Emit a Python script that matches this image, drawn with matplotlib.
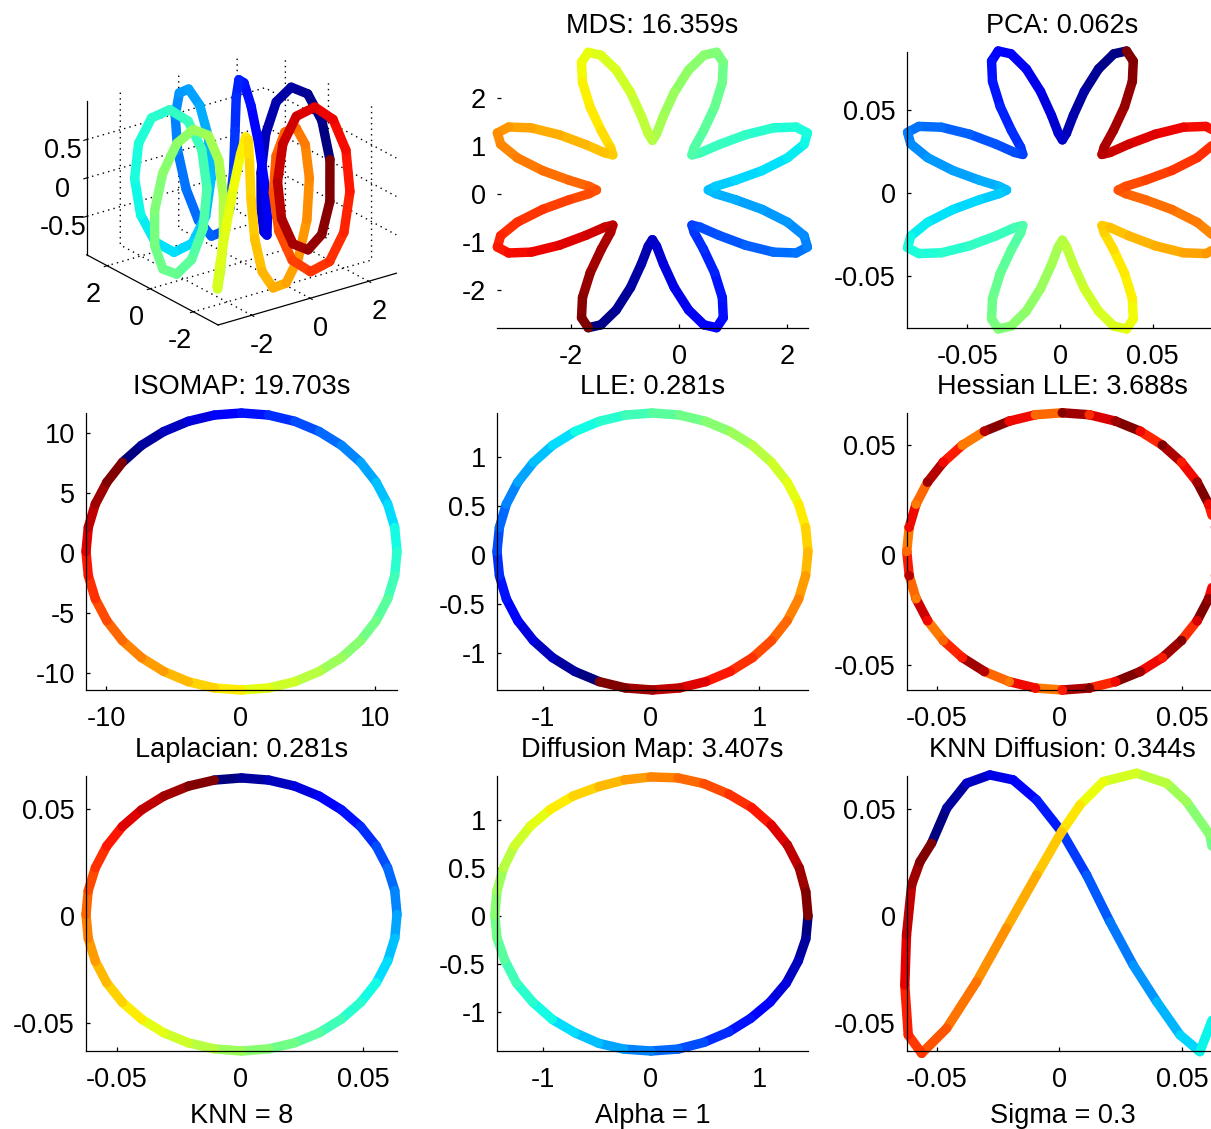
import numpy as np
import matplotlib
matplotlib.use('Agg')
import matplotlib.pyplot as plt
from matplotlib.collections import LineCollection
from matplotlib.ticker import FormatStrFormatter
from mpl_toolkits.mplot3d import proj3d
from mpl_toolkits.mplot3d.art3d import Line3DCollection

plt.rcParams['font.family'] = ['Liberation Sans', 'DejaVu Sans']
plt.rcParams['axes.unicode_minus'] = False
plt.rcParams['grid.linestyle'] = (0, (1, 3))
plt.rcParams['grid.color'] = 'k'
plt.rcParams['grid.linewidth'] = 1.0

W, H = 1211, 1129
FS = 19.5
LW = 6.8

# toroidal helix, ordered along t (colour goes dark blue -> dark red)
helix_x = [3.000, 2.860, 2.479, 1.962, 1.449, 1.074, 0.924, 1.017, 1.299, 1.663, 1.983, 2.155,
           2.121, 1.890, 1.522, 1.111, 0.750, 0.502, 0.383, 0.365, 0.388, 0.390, 0.326, 0.187,
           0.000, -0.187, -0.326, -0.390, -0.388, -0.365, -0.383, -0.502, -0.750, -1.111, -1.522, -1.890,
           -2.121, -2.155, -1.983, -1.663, -1.299, -1.017, -0.924, -1.074, -1.449, -1.962, -2.479, -2.860,
           -3.000, -2.860, -2.479, -1.962, -1.449, -1.074, -0.924, -1.017, -1.299, -1.663, -1.983, -2.155,
           -2.121, -1.890, -1.522, -1.111, -0.750, -0.502, -0.383, -0.365, -0.388, -0.390, -0.326, -0.187,
           0.000, 0.187, 0.326, 0.390, 0.388, 0.365, 0.383, 0.502, 0.750, 1.111, 1.522, 1.890,
           2.121, 2.155, 1.983, 1.663, 1.299, 1.017, 0.924, 1.074, 1.449, 1.962, 2.479, 2.860]
helix_y = [0.000, 0.187, 0.326, 0.390, 0.388, 0.365, 0.383, 0.502, 0.750, 1.111, 1.522, 1.890,
           2.121, 2.155, 1.983, 1.663, 1.299, 1.017, 0.924, 1.074, 1.449, 1.962, 2.479, 2.860,
           3.000, 2.860, 2.479, 1.962, 1.449, 1.074, 0.924, 1.017, 1.299, 1.663, 1.983, 2.155,
           2.121, 1.890, 1.522, 1.111, 0.750, 0.502, 0.383, 0.365, 0.388, 0.390, 0.326, 0.187,
           0.000, -0.187, -0.326, -0.390, -0.388, -0.365, -0.383, -0.502, -0.750, -1.111, -1.522, -1.890,
           -2.121, -2.155, -1.983, -1.663, -1.299, -1.017, -0.924, -1.074, -1.449, -1.962, -2.479, -2.860,
           -3.000, -2.860, -2.479, -1.962, -1.449, -1.074, -0.924, -1.017, -1.299, -1.663, -1.983, -2.155,
           -2.121, -1.890, -1.522, -1.111, -0.750, -0.502, -0.383, -0.365, -0.388, -0.390, -0.326, -0.187]
helix_z = [0, .5, .866, 1, .866, .5, 0, -.5, -.866, -1, -.866, -.5,
           0, .5, .866, 1, .866, .5, 0, -.5, -.866, -1, -.866, -.5,
           0, .5, .866, 1, .866, .5, 0, -.5, -.866, -1, -.866, -.5,
           0, .5, .866, 1, .866, .5, 0, -.5, -.866, -1, -.866, -.5,
           0, .5, .866, 1, .866, .5, 0, -.5, -.866, -1, -.866, -.5,
           0, .5, .866, 1, .866, .5, 0, -.5, -.866, -1, -.866, -.5,
           0, .5, .866, 1, .866, .5, 0, -.5, -.866, -1, -.866, -.5,
           0, .5, .866, 1, .866, .5, 0, -.5, -.866, -1, -.866, -.5]

mds_x = [-1.688, -1.453, -1.170, -0.904, -0.703, -0.577, -0.500, -0.423, -0.297, -0.096, 0.170, 0.453,
         0.688, 0.812, 0.794, 0.650, 0.445, 0.274, 0.232, 0.383, 0.732, 1.221, 1.741, 2.160,
         2.369, 2.309, 2.000, 1.531, 1.039, 0.672, 0.535, 0.672, 1.039, 1.531, 2.000, 2.309,
         2.369, 2.160, 1.741, 1.221, 0.732, 0.383, 0.232, 0.274, 0.445, 0.650, 0.794, 0.812,
         0.688, 0.453, 0.170, -0.096, -0.297, -0.423, -0.500, -0.577, -0.703, -0.904, -1.170, -1.453,
         -1.688, -1.812, -1.794, -1.650, -1.445, -1.274, -1.232, -1.383, -1.732, -2.221, -2.741, -3.160,
         -3.369, -3.309, -3.000, -2.531, -2.039, -1.672, -1.535, -1.672, -2.039, -2.531, -3.000, -3.309,
         -3.369, -3.160, -2.741, -2.221, -1.732, -1.383, -1.232, -1.274, -1.445, -1.650, -1.794, -1.812]
mds_y = [-2.794, -2.734, -2.425, -1.956, -1.464, -1.097, -0.960, -1.097, -1.464, -1.956, -2.425, -2.734,
         -2.794, -2.585, -2.166, -1.646, -1.157, -0.808, -0.657, -0.699, -0.870, -1.075, -1.219, -1.237,
         -1.113, -0.878, -0.595, -0.329, -0.128, -0.002, 0.075, 0.152, 0.278, 0.479, 0.745, 1.028,
         1.263, 1.387, 1.369, 1.225, 1.020, 0.849, 0.807, 0.958, 1.307, 1.796, 2.316, 2.735,
         2.944, 2.884, 2.575, 2.106, 1.614, 1.247, 1.110, 1.247, 1.614, 2.106, 2.575, 2.884,
         2.944, 2.735, 2.316, 1.796, 1.307, 0.958, 0.807, 0.849, 1.020, 1.225, 1.369, 1.387,
         1.263, 1.028, 0.745, 0.479, 0.278, 0.152, 0.075, -0.002, -0.128, -0.329, -0.595, -0.878,
         -1.113, -1.237, -1.219, -1.075, -0.870, -0.699, -0.657, -0.808, -1.157, -1.646, -2.166, -2.585]

pca_x = [0.0360, 0.0291, 0.0208, 0.0131, 0.0072, 0.0035, 0.0013, -0.0009, -0.0046, -0.0105, -0.0182, -0.0265,
         -0.0334, -0.0370, -0.0365, -0.0323, -0.0263, -0.0213, -0.0201, -0.0245, -0.0346, -0.0489, -0.0641, -0.0763,
         -0.0824, -0.0807, -0.0716, -0.0580, -0.0436, -0.0329, -0.0289, -0.0329, -0.0436, -0.0580, -0.0716, -0.0807,
         -0.0824, -0.0763, -0.0641, -0.0489, -0.0346, -0.0245, -0.0201, -0.0213, -0.0263, -0.0323, -0.0365, -0.0370,
         -0.0334, -0.0265, -0.0182, -0.0105, -0.0046, -0.0009, 0.0013, 0.0035, 0.0072, 0.0131, 0.0208, 0.0291,
         0.0360, 0.0396, 0.0391, 0.0349, 0.0289, 0.0239, 0.0227, 0.0271, 0.0372, 0.0515, 0.0667, 0.0789,
         0.0850, 0.0833, 0.0742, 0.0606, 0.0462, 0.0355, 0.0315, 0.0355, 0.0462, 0.0606, 0.0742, 0.0833,
         0.0850, 0.0789, 0.0667, 0.0515, 0.0372, 0.0271, 0.0227, 0.0239, 0.0289, 0.0349, 0.0391, 0.0396]
pca_y = [0.0855, 0.0838, 0.0747, 0.0611, 0.0467, 0.0360, 0.0320, 0.0360, 0.0467, 0.0611, 0.0747, 0.0838,
         0.0855, 0.0794, 0.0672, 0.0520, 0.0377, 0.0276, 0.0232, 0.0244, 0.0294, 0.0354, 0.0396, 0.0401,
         0.0365, 0.0296, 0.0213, 0.0136, 0.0077, 0.0040, 0.0018, -0.0004, -0.0041, -0.0100, -0.0177, -0.0260,
         -0.0329, -0.0365, -0.0360, -0.0318, -0.0258, -0.0208, -0.0196, -0.0240, -0.0341, -0.0484, -0.0636, -0.0758,
         -0.0819, -0.0802, -0.0711, -0.0575, -0.0431, -0.0324, -0.0284, -0.0324, -0.0431, -0.0575, -0.0711, -0.0802,
         -0.0819, -0.0758, -0.0636, -0.0484, -0.0341, -0.0240, -0.0196, -0.0208, -0.0258, -0.0318, -0.0360, -0.0365,
         -0.0329, -0.0260, -0.0177, -0.0100, -0.0041, -0.0004, 0.0018, 0.0040, 0.0077, 0.0136, 0.0213, 0.0296,
         0.0365, 0.0401, 0.0396, 0.0354, 0.0294, 0.0244, 0.0232, 0.0276, 0.0377, 0.0520, 0.0672, 0.0794]

iso_x = [-8.80, -7.38, -5.73, -3.90, -1.96, 0.05, 2.06, 4.00, 5.83, 7.48, 8.90, 10.05,
         10.91, 11.43, 11.60, 11.43, 10.91, 10.05, 8.90, 7.48, 5.83, 4.00, 2.06, 0.05,
         -1.96, -3.90, -5.73, -7.38, -8.80, -9.95, -10.81, -11.33, -11.50, -11.33, -10.81, -9.95]
iso_y = [7.58, 9.00, 10.15, 11.01, 11.53, 11.70, 11.53, 11.01, 10.15, 9.00, 7.58, 5.93,
         4.10, 2.16, 0.15, -1.86, -3.80, -5.63, -7.28, -8.70, -9.85, -10.71, -11.23, -11.40,
         -11.23, -10.71, -9.85, -8.70, -7.28, -5.63, -3.80, -1.86, 0.15, 2.16, 4.10, 5.93]

lle_x = [-0.476, -0.703, -0.908, -1.084, -1.228, -1.334, -1.398, -1.420, -1.398, -1.334, -1.228, -1.084,
         -0.908, -0.703, -0.476, -0.235, 0.015, 0.265, 0.506, 0.733, 0.938, 1.114, 1.258, 1.364,
         1.428, 1.450, 1.428, 1.364, 1.258, 1.114, 0.938, 0.733, 0.506, 0.265, 0.015, -0.235]
lle_y = [-1.295, -1.190, -1.049, -0.875, -0.673, -0.449, -0.211, 0.035, 0.281, 0.519, 0.743, 0.945,
         1.119, 1.260, 1.365, 1.429, 1.450, 1.429, 1.365, 1.260, 1.119, 0.945, 0.743, 0.519,
         0.281, 0.035, -0.211, -0.449, -0.673, -0.875, -1.049, -1.190, -1.295, -1.359, -1.380, -1.359]

hes_x = [0.0647, 0.0637, 0.0609, 0.0562, 0.0498, 0.0420, 0.0330, 0.0229, 0.0122, 0.0012, -0.0098, -0.0205,
         -0.0306, -0.0396, -0.0474, -0.0538, -0.0585, -0.0613, -0.0623, -0.0613, -0.0585, -0.0538, -0.0474, -0.0396,
         -0.0306, -0.0205, -0.0098, 0.0012, 0.0122, 0.0229, 0.0330, 0.0420, 0.0498, 0.0562, 0.0609, 0.0637]
hes_y = [0.0016, 0.0126, 0.0231, 0.0331, 0.0421, 0.0499, 0.0562, 0.0608, 0.0637, 0.0646, 0.0637, 0.0608,
         0.0562, 0.0499, 0.0421, 0.0331, 0.0231, 0.0126, 0.0016, -0.0094, -0.0199, -0.0299, -0.0389, -0.0467,
         -0.0530, -0.0576, -0.0605, -0.0614, -0.0605, -0.0576, -0.0530, -0.0467, -0.0389, -0.0299, -0.0199, -0.0094]
hes_seg = [0.97, 0.88, 1.0, 0.9, 0.96, 0.87, 1.0, 0.92, 0.97, 0.8, 0.9, 0.99,
           0.78, 0.88, 0.95, 0.8, 0.9, 0.78, 0.88, 0.8, 0.93, 0.78, 0.87, 0.97,
           0.8, 0.9, 0.78, 0.96, 0.87, 1.0, 0.9, 0.97, 0.86, 1.0, 0.9, 0.96]
hes_dot = [0.88, 1.0, 0.9, 0.97, 0.88, 1.0, 0.9, 0.97, 0.86, 0.99, 0.8, 0.9,
           0.95, 0.78, 0.9, 0.97, 0.78, 0.9, 0.8, 0.95, 0.78, 0.9, 0.8, 0.88,
           0.95, 0.78, 0.9, 0.88, 1.0, 0.9, 0.97, 0.88, 1.0, 0.92, 0.98, 0.88]

lap_x = [-0.0104, 0.0006, 0.0116, 0.0221, 0.0321, 0.0411, 0.0489, 0.0552, 0.0598, 0.0627, 0.0636, 0.0627,
         0.0598, 0.0552, 0.0489, 0.0411, 0.0321, 0.0221, 0.0116, 0.0006, -0.0104, -0.0209, -0.0309, -0.0399,
         -0.0477, -0.0540, -0.0586, -0.0615, -0.0624, -0.0615, -0.0586, -0.0540, -0.0477, -0.0399, -0.0309, -0.0209]
lap_y = [0.0634, 0.0644, 0.0634, 0.0606, 0.0559, 0.0495, 0.0417, 0.0326, 0.0225, 0.0118, 0.0007, -0.0104,
         -0.0211, -0.0312, -0.0403, -0.0481, -0.0545, -0.0592, -0.0620, -0.0630, -0.0620, -0.0592, -0.0545, -0.0481,
         -0.0403, -0.0312, -0.0211, -0.0104, 0.0007, 0.0118, 0.0225, 0.0326, 0.0417, 0.0495, 0.0559, 0.0606]

dif_x = [1.45, 1.43, 1.36, 1.25, 1.10, 0.92, 0.72, 0.49, 0.25, 0.00, -0.25, -0.48,
         -0.70, -0.91, -1.09, -1.24, -1.35, -1.42, -1.44, -1.42, -1.36, -1.26, -1.11, -0.93,
         -0.72, -0.48, -0.24, 0.00, 0.25, 0.49, 0.72, 0.93, 1.11, 1.26, 1.37, 1.43]
dif_y = [0.00, -0.24, -0.47, -0.70, -0.90, -1.07, -1.21, -1.32, -1.39, -1.41, -1.39, -1.33,
         -1.22, -1.08, -0.90, -0.70, -0.46, -0.23, 0.01, 0.26, 0.50, 0.73, 0.94, 1.11,
         1.25, 1.35, 1.42, 1.45, 1.44, 1.38, 1.27, 1.13, 0.95, 0.74, 0.50, 0.25]

knn_x = [-0.0522, -0.0460, -0.0379, -0.0284, -0.0189, -0.0093, 0.0009, 0.0111, 0.0206, 0.0301, 0.0397, 0.0492,
         0.0573, 0.0635, 0.0648, 0.0648, 0.0635, 0.0614, 0.0519, 0.0438, 0.0315, 0.0179, 0.0084, 0.0009,
         -0.0093, -0.0216, -0.0338, -0.0460, -0.0562, -0.0617, -0.0631, -0.0624, -0.0603, -0.0569]
knn_y = [0.0339, 0.0503, 0.0619, 0.0658, 0.0635, 0.0541, 0.0393, 0.0191, -0.0027, -0.0229, -0.0400, -0.0555,
         -0.0633, -0.0450, -0.0200, 0.0050, 0.0250, 0.0378, 0.0533, 0.0619, 0.0666, 0.0627, 0.0518, 0.0393,
         0.0191, -0.0057, -0.0307, -0.0524, -0.0641, -0.0555, -0.0322, -0.0089, 0.0145, 0.0253]

titles = ['MDS: 16.359s', 'PCA: 0.062s', 'ISOMAP: 19.703s', 'LLE: 0.281s', 'Hessian LLE: 3.688s',
          'Laplacian: 0.281s', 'Diffusion Map: 3.407s', 'KNN Diffusion: 0.344s']
params = ['KNN = 8', 'Alpha = 1', 'Sigma = 0.3']

jet = plt.get_cmap('jet')
norm = plt.Normalize(0, 1)


def closed_segments(pts):
    pts = np.vstack([pts, pts[:1]])
    return np.stack([pts[:-1], pts[1:]], axis=1)


def draw_curve(ax, xs, ys, vals=None):
    segs = closed_segments(np.column_stack([xs, ys]))
    if vals is None:
        vals = np.linspace(0, 1, len(segs))
    lc = LineCollection(segs, cmap=jet, norm=norm, linewidths=LW,
                        capstyle='round', joinstyle='round')
    lc.set_array(np.asarray(vals))
    lc.set_clip_on(False)
    ax.add_collection(lc)


def panel(col, row):
    cols = [86, 497, 907]
    rows = [(52, 328), (413, 690), (776, 1051)]
    top, bot = rows[row]
    return fig.add_axes([cols[col] / W, 1 - bot / H, 311 / W, (bot - top) / H])


def setup(ax, xlim, ylim, xt, yt, title=None, xlabel=None):
    ax.set_xlim(*xlim)
    ax.set_ylim(*ylim)
    ax.set_xticks(xt)
    ax.set_yticks(yt)
    ax.xaxis.set_major_formatter(FormatStrFormatter('%g'))
    ax.yaxis.set_major_formatter(FormatStrFormatter('%g'))
    ax.spines[['top', 'right']].set_visible(False)
    ax.spines[['left', 'bottom']].set_linewidth(0.9)
    ax.tick_params(direction='in', length=3, width=0.9, labelsize=FS)
    ax.tick_params(axis='x', pad=11.5)
    ax.tick_params(axis='y', pad=8)
    ax.patch.set_alpha(0)
    if title:
        ax.set_title(title, fontsize=FS, pad=14)
    if xlabel:
        ax.set_xlabel(xlabel, fontsize=FS, labelpad=7)


fig = plt.figure(figsize=(W / 100, H / 100), dpi=100)

# 3-D view of the helix
ax3 = fig.add_axes([(241.7 - 165) / W, (H - 187.4 - 165) / H, 330 / W, 330 / H],
                   projection='3d', proj_type='ortho')
ax3.view_init(elev=23.2, azim=-126.4)
ax3.set_box_aspect((1, 1, 0.755))
xl3, yl3, zl3 = (-3.15, 2.95), (-3.15, 2.95), (-1.0, 1.0)
ax3.set_xlim(*xl3)
ax3.set_ylim(*yl3)
ax3.set_zlim(*zl3)
ax3.set_xticks([-2, 0, 2])
ax3.set_yticks([-2, 0, 2])
ax3.set_zticks([-0.5, 0, 0.5])
ax3.zaxis.set_major_formatter(FormatStrFormatter('%g'))
for a in (ax3.xaxis, ax3.yaxis, ax3.zaxis):
    a.set_pane_color((1, 1, 1, 0))
    a.line.set_color('k')
    a.line.set_linewidth(0.9)
ax3.tick_params(labelsize=FS, pad=2)
pts3 = np.column_stack([helix_x, helix_y, helix_z])
segs3 = closed_segments(pts3)
lc3 = Line3DCollection(segs3, cmap=jet, norm=norm, linewidths=LW, capstyle='round')
lc3.set_array(np.linspace(0, 1, len(segs3)))
ax3.add_collection3d(lc3)

ax = panel(1, 0)
draw_curve(ax, mds_x, mds_y)
setup(ax, (-3.376, 2.38), (-2.80, 2.95), [-2, 0, 2], [-2, -1, 0, 1, 2], titles[0])
ax.spines['left'].set_visible(False)

ax = panel(2, 0)
draw_curve(ax, pca_x, pca_y)
setup(ax, (-0.0827, 0.0854), (-0.0813, 0.0849), [-0.05, 0, 0.05], [-0.05, 0, 0.05], titles[1])

ax = panel(0, 1)
draw_curve(ax, iso_x, iso_y)
setup(ax, (-11.5, 11.6), (-11.4, 11.7), [-10, 0, 10], [-10, -5, 0, 5, 10], titles[2])

ax = panel(1, 1)
draw_curve(ax, lle_x, lle_y)
setup(ax, (-1.42, 1.45), (-1.38, 1.45), [-1, 0, 1], [-1, -0.5, 0, 0.5, 1], titles[3])

ax = panel(2, 1)
draw_curve(ax, hes_x, hes_y, hes_seg)
ax.scatter(hes_x, hes_y, c=hes_dot, cmap=jet, norm=norm, s=48, marker='o',
           linewidths=0, clip_on=False, zorder=3)
setup(ax, (-0.0622, 0.0647), (-0.0614, 0.0645), [-0.05, 0, 0.05], [-0.05, 0, 0.05], titles[4])

ax = panel(0, 2)
draw_curve(ax, lap_x, lap_y)
setup(ax, (-0.0624, 0.0636), (-0.0630, 0.0653), [-0.05, 0, 0.05], [-0.05, 0, 0.05], titles[5], params[0])

ax = panel(1, 2)
draw_curve(ax, dif_x, dif_y)
setup(ax, (-1.42, 1.45), (-1.41, 1.46), [-1, 0, 1], [-1, -0.5, 0, 0.5, 1], titles[6], params[1])

ax = panel(2, 2)
draw_curve(ax, knn_x, knn_y)
setup(ax, (-0.0622, 0.0647), (-0.063, 0.0653), [-0.05, 0, 0.05], [-0.05, 0, 0.05], titles[7], params[2])

# scale the 3-D axes so its box fills the first grid cell
fig.canvas.draw()
cx = [xl3[i] for i in (0, 1) for j in (0, 1) for k in (0, 1)]
cy = [yl3[j] for i in (0, 1) for j in (0, 1) for k in (0, 1)]
cz = [zl3[k] for i in (0, 1) for j in (0, 1) for k in (0, 1)]
px, py, _ = proj3d.proj_transform(np.array(cx), np.array(cy), np.array(cz), ax3.get_proj())
disp = ax3.transData.transform(np.column_stack([px, py]))
dx0, dy0 = disp.min(axis=0)
dx1, dy1 = disp.max(axis=0)
tx0, tx1, ty0, ty1 = 86.7, 396.7, H - 325.0, H - 49.7
s = ((tx1 - tx0) / (dx1 - dx0) + (ty1 - ty0) / (dy1 - dy0)) / 2
p = ax3.get_position()
L, B, Wd, Hd = p.x0 * W, p.y0 * H, p.width * W, p.height * H
L2 = tx0 - (dx0 - L) * s
B2 = ty0 - (dy0 - B) * s
ax3.set_position([L2 / W, B2 / H, Wd * s / W, Hd * s / H])

fig.savefig('out.png', dpi=100)
